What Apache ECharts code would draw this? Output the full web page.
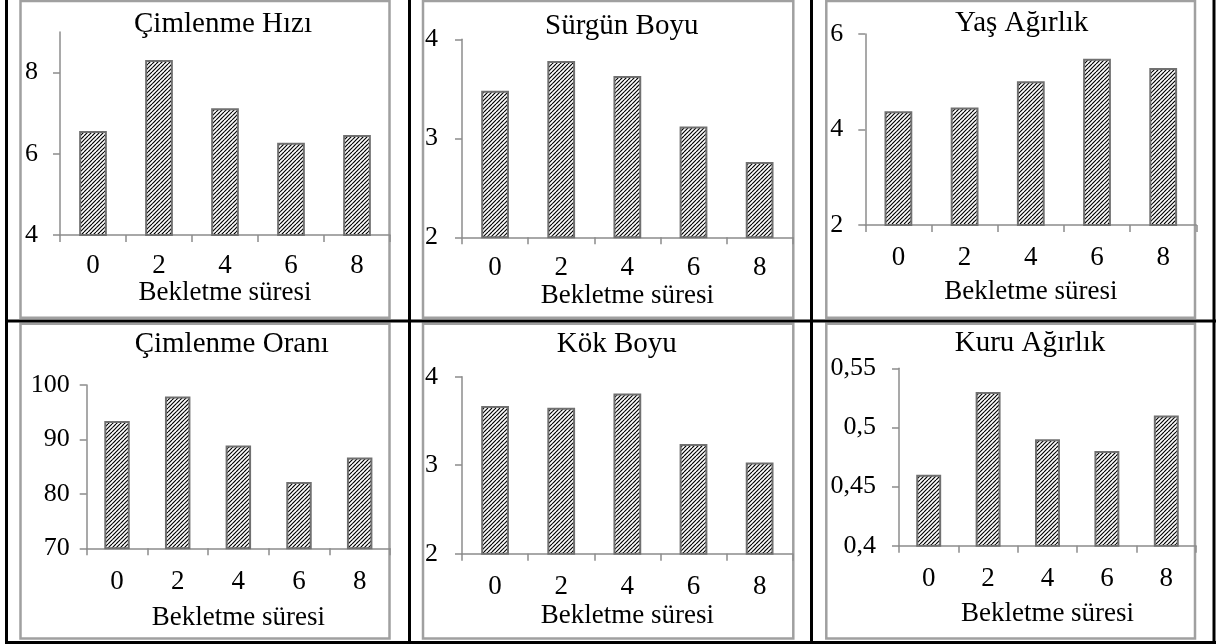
<!DOCTYPE html>
<html>
<head>
<meta charset="utf-8">
<script src="https://cdn.jsdelivr.net/npm/echarts@6/dist/echarts.min.js"></script>
<style>
html,body{margin:0;padding:0;background:#fff;}
#chart{width:1219px;height:644px;}
</style>
</head>
<body>
<div id="chart"></div>
<script>
// ---- data ----
const categories = ['0', '2', '4', '6', '8'];
const xAxisName = 'Bekletme süresi';
const titles = ['Çimlenme Hızı', 'Sürgün Boyu', 'Yaş Ağırlık', 'Çimlenme Oranı', 'Kök Boyu', 'Kuru Ağırlık'];
const cimlenmeHizi = [6.56, 8.31, 7.12, 6.27, 6.46];
const surgunBoyu = [3.48, 3.78, 3.63, 3.12, 2.76];
const yasAgirlik = [4.38, 4.46, 5.01, 5.48, 5.29];
const cimlenmeOrani = [93.4, 97.9, 88.9, 82.2, 86.7];
const kokBoyu = [3.67, 3.65, 3.81, 3.24, 3.03];
const kuruAgirlik = [0.46, 0.53, 0.49, 0.48, 0.51];
const ticksHiz = [4, 6, 8];
const ticksSurgun = [2, 3, 4];
const ticksYas = [2, 4, 6];
const ticksOran = [70, 80, 90, 100];
const ticksKok = [2, 3, 4];
const ticksKuru = [0.4, 0.45, 0.5, 0.55];
const rangeHiz = [4, 9];
const rangeSurgun = [2, 4];
const rangeYas = [2, 6];
const rangeOran = [70, 100];
const rangeKok = [2, 4];
const rangeKuru = [0.4, 0.55];

// ---- styling / layout ----
const FONT = "'Liberation Serif','Times New Roman',serif";
const AXIS_GRAY = '#8c8c8c';

function hatchCanvas() {
  const c = document.createElement('canvas');
  c.width = 8; c.height = 8;
  const g = c.getContext('2d');
  g.fillStyle = '#fff';
  g.fillRect(0, 0, 8, 8);
  g.strokeStyle = '#000';
  g.lineWidth = 1.15;
  for (let o = -8; o <= 16; o += 4) {
    g.beginPath();
    g.moveTo(o, 8);
    g.lineTo(o + 8, 0);
    g.stroke();
  }
  return c;
}
const hatch = { image: hatchCanvas(), repeat: 'repeat' };

const panels = [
  { title: titles[0], data: cimlenmeHizi, ticks: ticksHiz, range: rangeHiz,
    grid: { left: 60, top: 32, width: 330, height: 203 }, tpos: [223, 10], lm: 17, ym: 22, ng: 43 },
  { title: titles[1], data: surgunBoyu, ticks: ticksSurgun, range: rangeSurgun,
    grid: { left: 462, top: 39.3, width: 330.7, height: 198 }, tpos: [621.7, 12], lm: 17, ym: 24, ng: 42 },
  { title: titles[2], data: yasAgirlik, ticks: ticksYas, range: rangeYas,
    grid: { left: 865.3, top: 34, width: 331, height: 191 }, tpos: [1021.7, 8.5], lm: 19, ym: 22, ng: 53 },
  { title: titles[3], data: cimlenmeOrani, ticks: ticksOran, range: rangeOran,
    grid: { left: 86.7, top: 385, width: 303.3, height: 163.3 }, tpos: [231.7, 330], lm: 20, ym: 17, ng: 56 },
  { title: titles[4], data: kokBoyu, ticks: ticksKok, range: rangeKok,
    grid: { left: 462, top: 376.7, width: 330.7, height: 177 }, tpos: [616.7, 330], lm: 20, ym: 24, ng: 49 },
  { title: titles[5], data: kuruAgirlik, ticks: ticksKuru, range: rangeKuru,
    grid: { left: 899, top: 368.3, width: 297, height: 177.4 }, tpos: [1030, 328.5], lm: 20, ym: 23, ng: 55 }
];

function fmt(v) {
  return String(+v.toFixed(2)).replace('.', ',');
}

const option = {
  backgroundColor: '#fff',
  animation: false,
  textStyle: { fontFamily: FONT, color: '#000' },
  title: panels.map(p => ({
    text: p.title, left: p.tpos[0], top: p.tpos[1], textAlign: 'center', textVerticalAlign: 'top',
    padding: 0,
    textStyle: { fontFamily: FONT, fontSize: 29, fontWeight: 'normal', color: '#000' }
  })),
  grid: panels.map(p => Object.assign({ containLabel: false }, p.grid)),
  xAxis: panels.map((p, i) => ({
    type: 'category', gridIndex: i, data: categories,
    name: xAxisName, nameLocation: 'middle', nameGap: p.ng,
    nameTextStyle: { fontFamily: FONT, fontSize: 27, color: '#000' },
    axisLine: { lineStyle: { color: AXIS_GRAY, width: 1.5 } },
    axisTick: { show: true, length: 7, lineStyle: { color: AXIS_GRAY, width: 1.5 } },
    axisLabel: { fontFamily: FONT, fontSize: 27, color: '#000', margin: p.lm },
    splitLine: { show: false }
  })),
  yAxis: panels.map((p, i) => ({
    type: 'value', gridIndex: i, min: p.range[0], max: p.range[1],
    axisLine: { show: true, lineStyle: { color: AXIS_GRAY, width: 1.5 } },
    axisTick: { show: true, length: 7, customValues: p.ticks, lineStyle: { color: AXIS_GRAY, width: 1.5 } },
    axisLabel: { fontFamily: FONT, fontSize: 26, color: '#000', margin: p.ym, customValues: p.ticks, formatter: fmt },
    splitLine: { show: false }
  })),
  series: panels.map((p, i) => ({
    type: 'bar', xAxisIndex: i, yAxisIndex: i, data: p.data, barWidth: '42%',
    itemStyle: { color: hatch, borderColor: '#707070', borderWidth: 2 }
  })),
  graphic: [
    // gray chart frames
    { type: 'rect', shape: { x: 20.5, y: 1, width: 369, height: 316.7 }, style: { fill: 'none', stroke: '#a0a0a0', lineWidth: 2.5 }, silent: true },
    { type: 'rect', shape: { x: 423, y: 1, width: 370.3, height: 316.7 }, style: { fill: 'none', stroke: '#a0a0a0', lineWidth: 2.5 }, silent: true },
    { type: 'rect', shape: { x: 826.3, y: 1, width: 368.7, height: 316.7 }, style: { fill: 'none', stroke: '#a0a0a0', lineWidth: 2.5 }, silent: true },
    { type: 'rect', shape: { x: 20.5, y: 323.8, width: 369, height: 314.7 }, style: { fill: 'none', stroke: '#a0a0a0', lineWidth: 2.5 }, silent: true },
    { type: 'rect', shape: { x: 423, y: 323.8, width: 370.3, height: 314.7 }, style: { fill: 'none', stroke: '#a0a0a0', lineWidth: 2.5 }, silent: true },
    { type: 'rect', shape: { x: 826.3, y: 323.8, width: 368.7, height: 314.7 }, style: { fill: 'none', stroke: '#a0a0a0', lineWidth: 2.5 }, silent: true },
    // black table lines
    { type: 'line', shape: { x1: 6.5, y1: 0, x2: 6.5, y2: 644 }, style: { stroke: '#000', lineWidth: 3 }, silent: true },
    { type: 'line', shape: { x1: 409.5, y1: 0, x2: 409.5, y2: 644 }, style: { stroke: '#000', lineWidth: 3 }, silent: true },
    { type: 'line', shape: { x1: 811.5, y1: 0, x2: 811.5, y2: 644 }, style: { stroke: '#000', lineWidth: 3 }, silent: true },
    { type: 'line', shape: { x1: 1214, y1: 0, x2: 1214, y2: 644 }, style: { stroke: '#000', lineWidth: 3 }, silent: true },
    { type: 'line', shape: { x1: 5, y1: 321, x2: 1216, y2: 321 }, style: { stroke: '#000', lineWidth: 3 }, silent: true },
    { type: 'line', shape: { x1: 5, y1: 642.5, x2: 1216, y2: 642.5 }, style: { stroke: '#000', lineWidth: 3 }, silent: true }
  ]
};

const chart = echarts.init(document.getElementById('chart'));
chart.setOption(option);
</script>
</body>
</html>
